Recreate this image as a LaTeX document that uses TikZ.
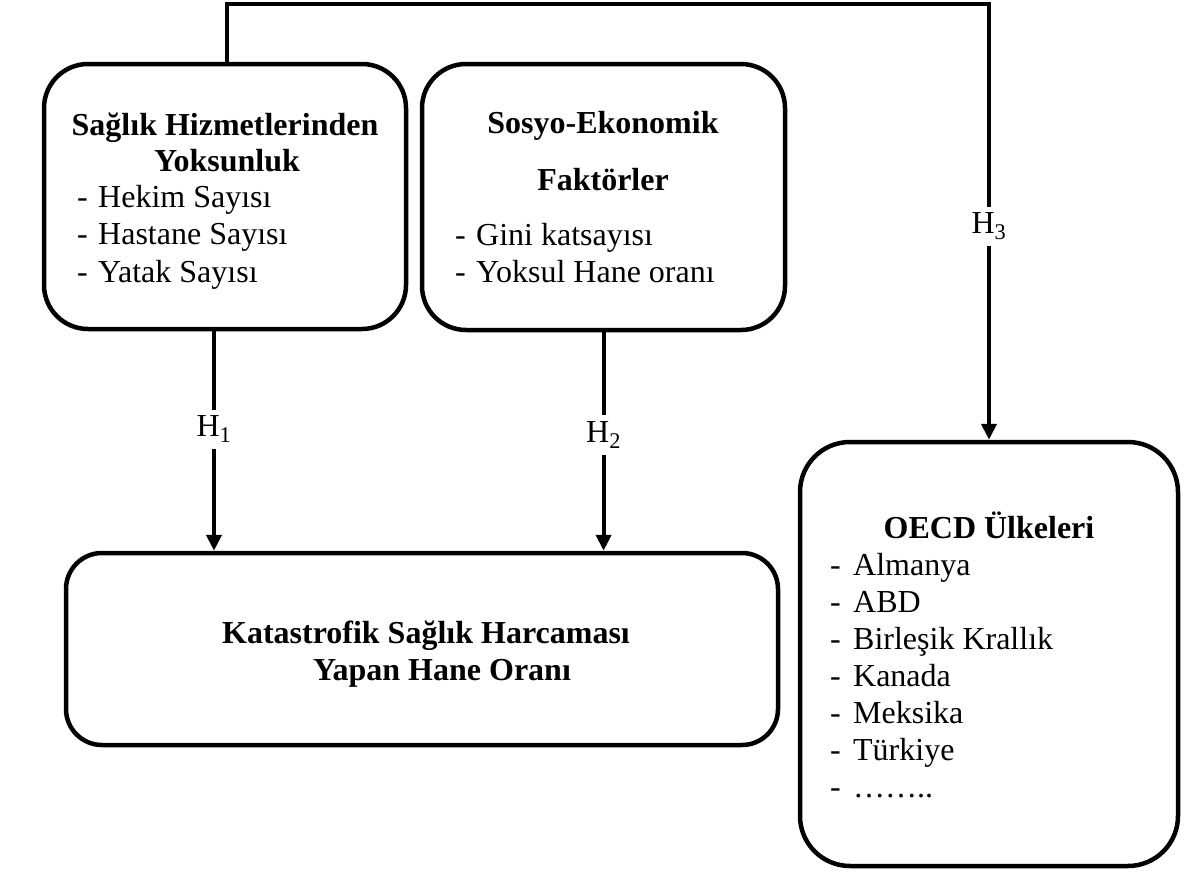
\documentclass[tikz,border=0pt]{standalone}
\usepackage{fontspec}
\setmainfont{Liberation Serif}
\usetikzlibrary{arrows.meta}
\begin{document}
\begin{tikzpicture}[x=1pt,y=-1pt,
  box/.style={draw, line width=4.5pt, rounded corners=#1, inner sep=0pt},
  box/.default=44pt,
  conn/.style={line width=4pt, line join=miter},
  arr/.style={conn, -{Triangle[width=15pt,length=16pt]}},
  lbl/.style={fill=white, inner xsep=2pt, inner ysep=6pt, font=\fontsize{32}{36}\selectfont},
  txt/.style={inner sep=0pt, font=\fontsize{32}{37.5}\selectfont},
  ttl/.style={inner sep=0pt, font=\fontsize{32}{37.5}\selectfont\bfseries},
]
\useasboundingbox (0,0) rectangle (1187,873);

% boxes
\node[box, minimum width=362pt, minimum height=265pt] (b1) at (225,196.5) {};
\node[box, minimum width=363pt, minimum height=266pt] (b2) at (603.5,197) {};
\node[box=36pt, minimum width=712pt, minimum height=192pt] (b3) at (422,649) {};
\node[box=50pt, minimum width=378pt, minimum height=424pt] (b4) at (989,654) {};

% box 1 text
\node[ttl, anchor=base] (t1a) at (225,135) {Sağlık Hizmetlerinden};
\node[ttl, anchor=base] (t1b) at (227,171) {Yoksunluk};
\node[txt, anchor=base west] (l1) at (77,207) {\begin{tabular}[t]{@{}p{21pt}@{}l@{}}- & Hekim Sayısı\\- & Hastane Sayısı\\- & Yatak Sayısı\end{tabular}};

% box 2 text
\node[ttl, anchor=base] (t2a) at (603,133) {Sosyo-Ekonomik};
\node[ttl, anchor=base] (t2b) at (603,190) {Faktörler};
\node[txt, anchor=base west] (l2) at (455,245) {\begin{tabular}[t]{@{}p{21pt}@{}l@{}}- & Gini katsayısı\\- & Yoksul Hane oranı\end{tabular}};

% box 3 text
\node[ttl, anchor=base] (t3a) at (426,643) {Katastrofik Sağlık Harcaması};
\node[ttl, anchor=base] (t3b) at (442,680) {Yapan Hane Oranı};

% box 4 text
\node[ttl, anchor=base] (t4) at (989,538) {OECD Ülkeleri};
\node[txt, anchor=base west, font=\fontsize{32}{37}\selectfont] (l4) at (830,575) {\begin{tabular}[t]{@{}p{23pt}@{}l@{}}- & Almanya\\- & ABD\\- & Birleşik Krallık\\- & Kanada\\- & Meksika\\- & Türkiye\\- & ……..\end{tabular}};

% connectors
\coordinate (c1) at (214,0);
\coordinate (c2) at (603.6,0);
\coordinate (tl) at (227,4);
\coordinate (tr) at (989,4);
\draw[arr] (b1.south -| c1) -- node[lbl, pos=0.446] (h1) {H\textsubscript{1}} (b3.north -| c1);
\draw[arr] (b2.south -| c2) -- node[lbl, pos=0.47] (h2) {H\textsubscript{2}} (b3.north -| c2);
\draw[arr] (b1.north -| tl) -- (tl) -- (tr) -- node[lbl, pos=0.51] (h3) {H\textsubscript{3}} (b4.north -| tr);
\end{tikzpicture}
\end{document}
